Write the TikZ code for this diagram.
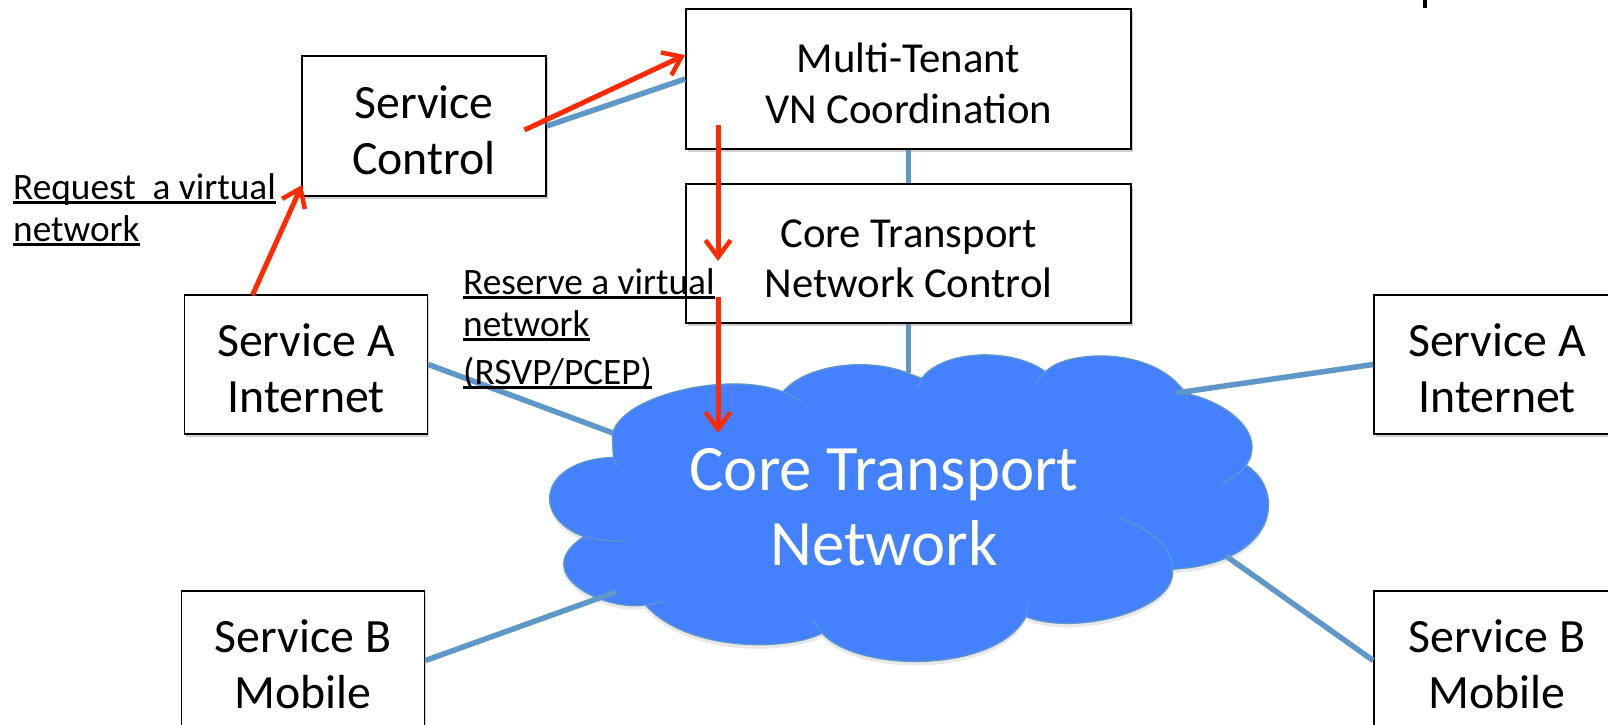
\documentclass[tikz,border=0pt]{standalone}
\usepackage{fontspec}
\setmainfont{Carlito}
\usetikzlibrary{shadows,arrows.meta}
\definecolor{linkblue}{HTML}{5F97C9}
\definecolor{cloudblue}{HTML}{4481FF}
\definecolor{redarrow}{HTML}{FF2A00}
\newcommand{\lowbig}{\rule{0pt}{41pt}}
\newcommand{\lowmid}{\rule{0pt}{38pt}}
\newcommand{\ulthick}[1]{\setbox0\hbox{#1}\rlap{\rule[-4.5pt]{\wd0}{3pt}}\box0}
\tikzset{
  box/.style={draw=black,line width=1.8pt,fill=white,inner sep=0pt,align=center,
    minimum width=#1,minimum height=139pt,
    drop shadow={shadow xshift=1.5pt,shadow yshift=-2.5pt,opacity=.3,fill=black!60}},
  box/.default=243pt,
  bigtext/.style={font=\fontsize{47.8}{56}\selectfont},
  midtext/.style={font=\fontsize{42.7}{50.5}\selectfont},
  link/.style={draw=linkblue,line width=5.5pt},
  redline/.style={draw=redarrow,line width=5pt,-{Straight Barb[length=17pt,width=25pt,line width=4.5pt]}},
  note/.style={font=\fontsize{37.3}{42.5}\selectfont,align=left,inner sep=0pt,anchor=north west},
  cloudedge/.style={draw=linkblue,line width=1.2pt},
}
\begin{document}
\begin{tikzpicture}[x=1pt,y=-1pt]
\clip[use as bounding box] (0,0) rectangle (1608,725);
\fill[white] (0,0) rectangle (1608,725);
\draw[black,line width=4pt] (1425,0) -- (1425,8);

% boxes
\node[box=244pt,minimum height=140pt,bigtext] (sc) at (424,126) {\lowbig Service\\Control};
\node[box=445pt,minimum height=140pt,midtext] (mt) at (908.5,79) {\lowmid Multi-Tenant\\VN Coordination};
\node[box=445pt,minimum height=139pt,midtext] (cc) at (908.5,253.5) {\lowmid Core Transport\\Network Control};
\node[box=243pt,bigtext] (sal) at (306,364.5) {\lowbig Service A\\Internet};
\node[box=243pt,bigtext] (sbl) at (303,660.5) {\lowbig Service B\\Mobile};
\node[box=246pt,bigtext] (sar) at (1497,364.5) {\lowbig Service A\\Internet};
\node[box=246pt,bigtext] (sbr) at (1497,660.5) {\lowbig Service B\\Mobile};

% free ends on the cloud
\coordinate (cctop) at (908.5,373);
\coordinate (cleft) at (613,433);
\coordinate (cbl) at (616,592);
\coordinate (ctr) at (1176,393);
\coordinate (cbr) at (1226,556);

% cloud
\begin{scope}[shift={(520,340)},xscale=0.4912,yscale=0.3333]
\path[fill=cloudblue,cloudedge,drop shadow={shadow xshift=0pt,shadow yshift=-4pt,opacity=.15,fill=black!60}]
  (188,285) .. controls (200,170) and (420,90) .. (535,155)
  .. controls (590,65) and (720,55) .. (790,100)
  -- (818,115)
  .. controls (860,30) and (1000,20) .. (1070,95)
  .. controls (1110,30) and (1290,15) .. (1355,160)
  .. controls (1450,190) and (1520,290) .. (1478,375)
  .. controls (1560,450) and (1545,670) .. (1328,688)
  .. controls (1340,810) and (1130,890) .. (1030,830)
  .. controls (970,1000) and (690,1000) .. (615,880)
  .. controls (540,935) and (340,935) .. (255,795)
  .. controls (170,815) and (15,700) .. (130,590)
  .. controls (20,530) and (40,360) .. (190,352)
  -- cycle;
\draw[cloudedge] (535,155) -- (575,185);
\draw[cloudedge] (818,115) -- (810,145);
\draw[cloudedge] (1070,95) -- (1048,130);
\draw[cloudedge] (1355,160) -- (1360,185);
\draw[cloudedge] (1478,375) .. controls (1470,395) and (1450,415) .. (1430,430);
\draw[cloudedge] (1328,688) .. controls (1330,620) and (1280,565) .. (1218,533);
\draw[cloudedge] (1030,830) -- (1037,785);
\draw[cloudedge] (615,880) -- (595,838);
\draw[cloudedge] (255,795) -- (293,785);
\draw[cloudedge] (130,590) .. controls (155,600) and (185,603) .. (215,603);
\draw[cloudedge] (190,352) -- (198,380);
\end{scope}

% blue links
\draw[link] (sc.east) -- (mt.west);
\draw[link] (mt.south) -- (cc.north);
\draw[link] (cc.south) -- (cctop);
\draw[link] (sal.east) -- (cleft);
\draw[link] (sbl.east) -- (cbl);
\draw[link] (sar.west) -- (ctr);
\draw[link] (sbr.west) -- (cbr);

\node[font=\fontsize{64.8}{75}\selectfont,text=white,align=center,inner sep=0pt] (cloudtext) at (884,507) {Core Transport\\Network};

% labels
\node[note] (req) at (13,173) {\ulthick{Request \ a virtual}\\\ulthick{network}};
\node[note] (res) at (463,268) {\ulthick{Reserve a virtual}\\\ulthick{network}\\[5pt]\ulthick{(RSVP/PCEP)}};

% red arrows
\coordinate (d1a) at (718,125);
\coordinate (d1b) at (718,261);
\coordinate (d2a) at (718,297);
\coordinate (d2b) at (718,433);
\coordinate (r1) at (252.5,295);
\coordinate (r2) at (302,185);
\coordinate (r3) at (524.5,130);
\coordinate (r4) at (685,55);
\draw[redline] (r1) -- (r2);
\draw[redline] (r3) -- (r4);
\draw[redline] (d1a) -- (d1b);
\draw[redline] (d2a) -- (d2b);
\end{tikzpicture}
\end{document}
